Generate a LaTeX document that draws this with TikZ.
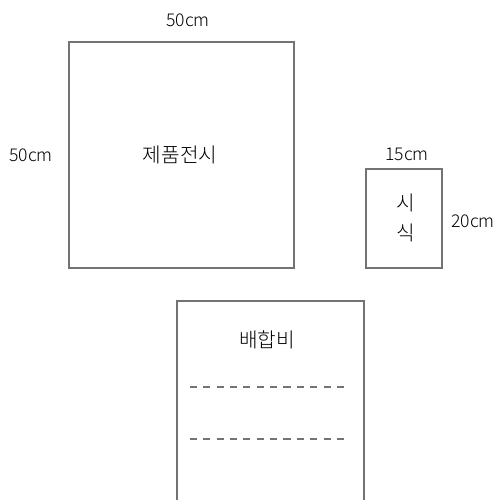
\documentclass[tikz,border=0pt]{standalone}
\usepackage{fontspec}
\setmainfont{Noto Sans CJK KR Light}
\usepackage{tikz}
\usetikzlibrary{calc,positioning}

\tikzset{
  frame/.style={draw=black!55, line width=0.6pt},
  sizelbl/.style={inner sep=0pt, font=\fontsize{10}{12}\selectfont},
  boxlbl/.style={inner sep=0pt, font=\fontsize{11.5}{13}\selectfont},
  fillline/.style={draw=black!55, line width=0.6pt, dash pattern=on 4pt off 3.6pt}
}

\begin{document}
\begin{tikzpicture}[x=0.02cm, y=-0.02cm]
\useasboundingbox (0,0) rectangle (502,500);
% product display square
\coordinate (dtl) at (69,42);
\coordinate (dbr) at (294,268);
\draw[frame] (dtl) rectangle (dbr);
\node[sizelbl] (dw) at (188,20) {50cm};
\node[sizelbl] (dh) at (31,155) {50cm};
\node[boxlbl] (disp) at (180,155) {제품전시};
% tasting box
\coordinate (ttl) at (366,169);
\coordinate (tbr) at (442,268);
\draw[frame] (ttl) rectangle (tbr);
\node[sizelbl] (tw) at (407,154) {15cm};
\node[sizelbl] (th) at (473,221) {20cm};
\node[boxlbl] (t1) at (406,203) {시};
\node[boxlbl] (t2) at (406,233) {식};
% mixing ratio sheet (open at the bottom)
\coordinate (mbl) at (177,500);
\coordinate (mtl) at (177,301);
\coordinate (mtr) at (364,301);
\coordinate (mbr) at (364,500);
\draw[frame] (mbl) -- (mtl) -- (mtr) -- (mbr);
\node[boxlbl] (mix) at (267,340) {배합비};
\coordinate (l1a) at (190,387);
\coordinate (l1b) at (350,387);
\coordinate (l2a) at (190,439);
\coordinate (l2b) at (350,439);
\draw[fillline] (l1a) -- (l1b);
\draw[fillline] (l2a) -- (l2b);
\end{tikzpicture}
\end{document}
